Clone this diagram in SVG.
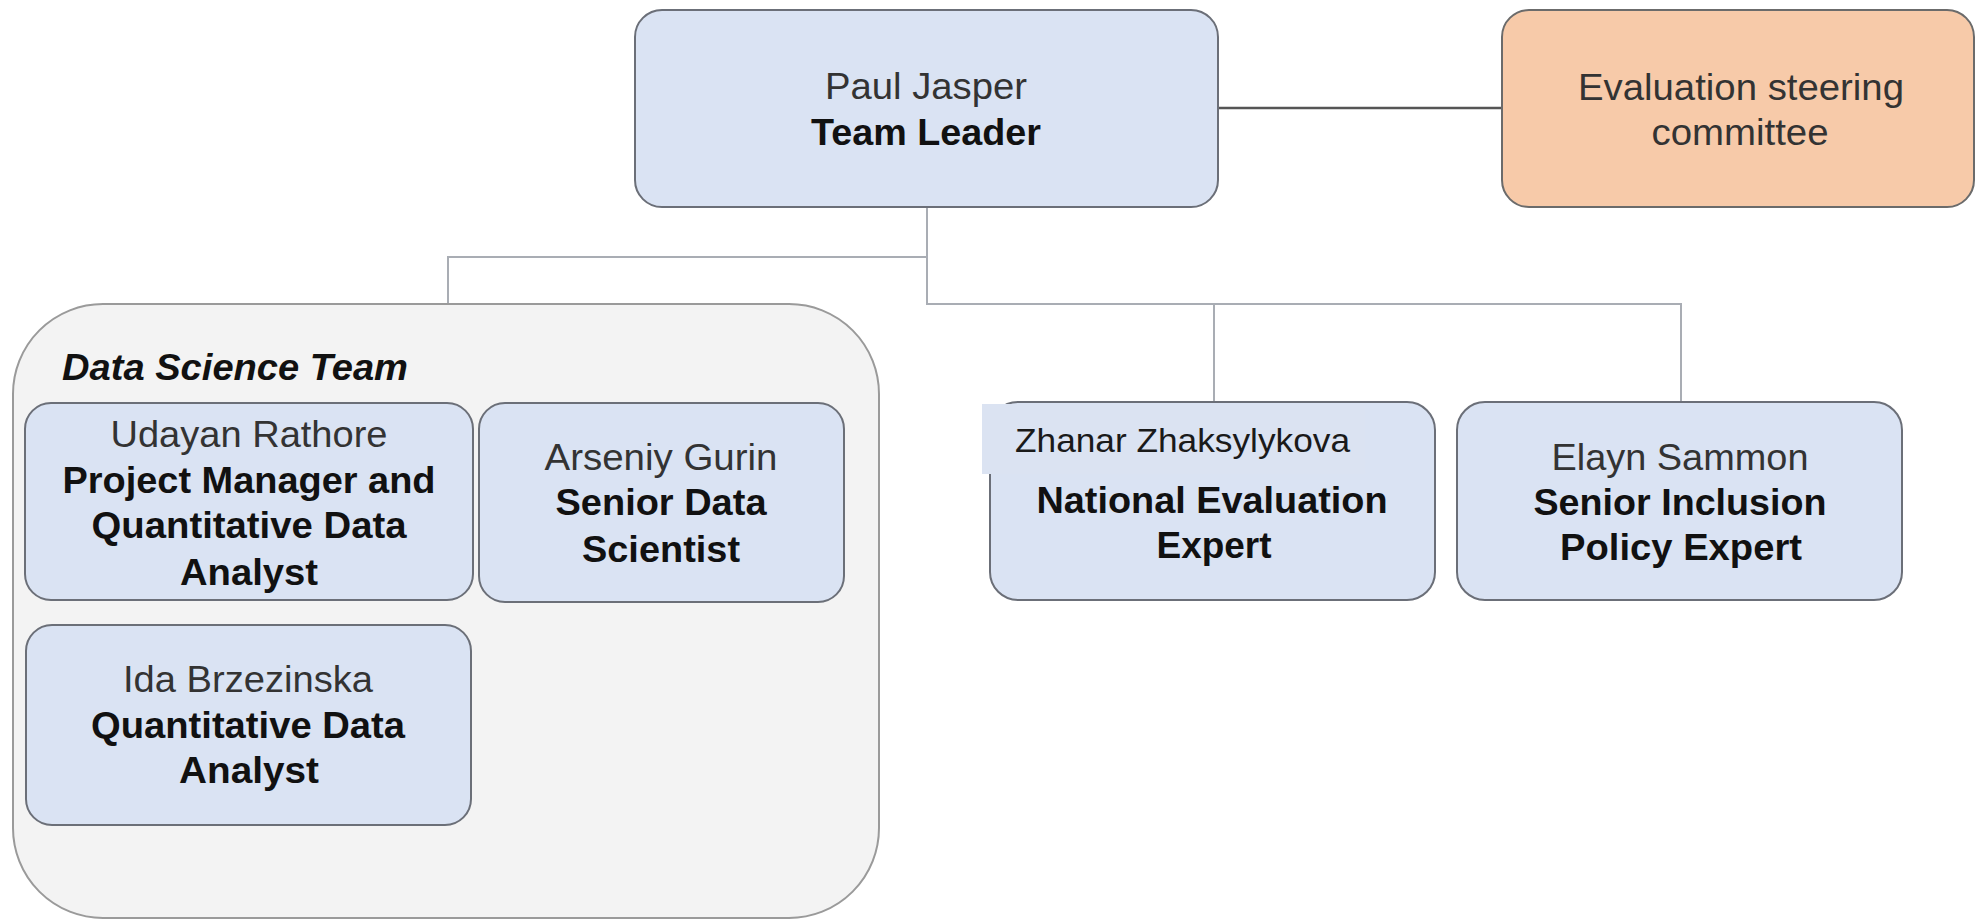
<svg xmlns="http://www.w3.org/2000/svg" width="1977" height="921" viewBox="0 0 1977 921">
<style>
.bg{fill:#ffffff}
.node{fill:#dae3f3;stroke:#6b6f78;stroke-width:2}
.steer{fill:#f7caa9;stroke:#6b6b6b;stroke-width:2}
.cont{fill:#f3f3f3;stroke:#9a9a9a;stroke-width:2}
.tree{fill:none;stroke:#a9adb4;stroke-width:2}
.main{fill:none;stroke:#555;stroke-width:2.5}
text{font-family:"Liberation Sans",Arial,sans-serif;font-size:36px;text-anchor:middle}
.r{fill:#333;font-weight:normal}
.b{fill:#111;font-weight:bold}
.t{fill:#111;font-weight:bold;font-style:italic;text-anchor:start}
</style>
<rect class="bg" x="0" y="0" width="1977" height="921"/>
<g id="connectors">
<line class="main" x1="1066" y1="108" x2="1502" y2="108"/>
<polyline class="tree" points="927,207 927,304 1681,304 1681,402"/>
<line class="tree" x1="1214" y1="304" x2="1214" y2="402"/>
<polyline class="tree" points="927,257 448,257 448,304"/>
</g>
<g id="team-leader">
<rect class="node" x="635" y="10" width="583" height="197" rx="27"/>
<text class="r" x="926" y="99" textLength="202" lengthAdjust="spacingAndGlyphs">Paul Jasper</text>
<text class="b" x="926" y="145" textLength="230" lengthAdjust="spacingAndGlyphs">Team Leader</text>
</g>
<g id="steering-committee">
<rect class="steer" x="1502" y="10" width="472" height="197" rx="27"/>
<text class="r" x="1741" y="100" textLength="326" lengthAdjust="spacingAndGlyphs">Evaluation steering</text>
<text class="r" x="1740" y="145" textLength="177" lengthAdjust="spacingAndGlyphs">committee</text>
</g>
<g id="data-science-team">
<rect class="cont" x="13" y="304" width="866" height="614" rx="90"/>
<text class="t" x="62" y="380" textLength="346" lengthAdjust="spacingAndGlyphs">Data Science Team</text>
</g>
<g id="udayan">
<rect class="node" x="25" y="403" width="448" height="197" rx="26"/>
<text class="r" x="249" y="447" textLength="277" lengthAdjust="spacingAndGlyphs">Udayan Rathore</text>
<text class="b" x="249" y="493" textLength="373" lengthAdjust="spacingAndGlyphs">Project Manager and</text>
<text class="b" x="249" y="538" textLength="315" lengthAdjust="spacingAndGlyphs">Quantitative Data</text>
<text class="b" x="249" y="585" textLength="138" lengthAdjust="spacingAndGlyphs">Analyst</text>
</g>
<g id="arseniy">
<rect class="node" x="479" y="403" width="365" height="199" rx="26"/>
<text class="r" x="661" y="470" textLength="233" lengthAdjust="spacingAndGlyphs">Arseniy Gurin</text>
<text class="b" x="661" y="515" textLength="211" lengthAdjust="spacingAndGlyphs">Senior Data</text>
<text class="b" x="661" y="562" textLength="158" lengthAdjust="spacingAndGlyphs">Scientist</text>
</g>
<g id="ida">
<rect class="node" x="26" y="625" width="445" height="200" rx="26"/>
<text class="r" x="248" y="692" textLength="250" lengthAdjust="spacingAndGlyphs">Ida Brzezinska</text>
<text class="b" x="248" y="738" textLength="314" lengthAdjust="spacingAndGlyphs">Quantitative Data</text>
<text class="b" x="249" y="783" textLength="140" lengthAdjust="spacingAndGlyphs">Analyst</text>
</g>
<g id="zhanar">
<rect class="node" x="990" y="402" width="445" height="198" rx="28"/>
<rect x="982" y="404" width="383" height="70" fill="#dbe3f2"/>
<text class="r" x="1015" y="452" style="text-anchor:start;fill:#1a1a1a;font-size:33px" textLength="335" lengthAdjust="spacingAndGlyphs">Zhanar Zhaksylykova</text>
<text class="b" x="1212" y="513" textLength="351" lengthAdjust="spacingAndGlyphs">National Evaluation</text>
<text class="b" x="1214" y="558" textLength="115" lengthAdjust="spacingAndGlyphs">Expert</text>
</g>
<g id="elayn">
<rect class="node" x="1457" y="402" width="445" height="198" rx="28"/>
<text class="r" x="1680" y="470" textLength="257" lengthAdjust="spacingAndGlyphs">Elayn Sammon</text>
<text class="b" x="1680" y="515" textLength="293" lengthAdjust="spacingAndGlyphs">Senior Inclusion</text>
<text class="b" x="1681" y="560" textLength="242" lengthAdjust="spacingAndGlyphs">Policy Expert</text>
</g>
</svg>
